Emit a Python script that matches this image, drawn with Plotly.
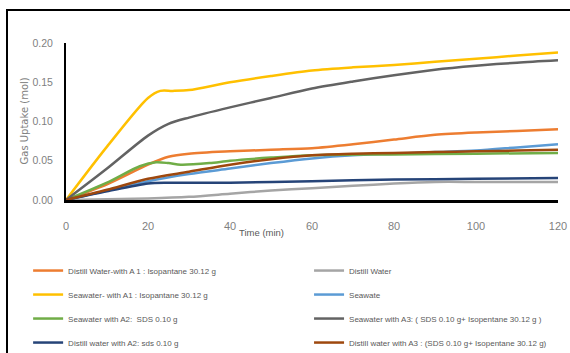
import plotly.graph_objects as go

# Gas uptake (mol) over time (min) for each water / additive system
t_dw_a1 = [0, 10, 20, 25, 30, 40, 50, 60, 70, 80, 90, 100, 110, 120]
y_dw_a1 = [0, 0.020, 0.045, 0.055, 0.059, 0.062, 0.064, 0.066, 0.071, 0.077, 0.083, 0.086, 0.088, 0.090]

t_dw = [0, 20, 30, 40, 50, 60, 70, 80, 90, 100, 110, 120]
y_dw = [0, 0.002, 0.004, 0.008, 0.012, 0.015, 0.018, 0.021, 0.023, 0.023, 0.023, 0.023]

t_sw_a1 = [0, 10, 20, 23, 26, 30, 40, 50, 60, 70, 80, 90, 100, 110, 120]
y_sw_a1 = [0, 0.068, 0.130, 0.139, 0.139, 0.140, 0.150, 0.158, 0.165, 0.169, 0.172, 0.176, 0.180, 0.184, 0.188]

t_sw = [0, 10, 20, 30, 40, 50, 60, 70, 80, 90, 100, 110, 120]
y_sw = [0, 0.012, 0.024, 0.033, 0.040, 0.047, 0.053, 0.057, 0.059, 0.061, 0.063, 0.067, 0.071]

t_sw_a2 = [0, 10, 18, 22, 25, 28, 35, 40, 50, 60, 80, 100, 120]
y_sw_a2 = [0, 0.022, 0.043, 0.048, 0.047, 0.045, 0.047, 0.050, 0.054, 0.057, 0.058, 0.059, 0.060]

t_sw_a3 = [0, 10, 20, 25, 30, 40, 50, 60, 70, 80, 90, 100, 110, 120]
y_sw_a3 = [0, 0.040, 0.082, 0.097, 0.105, 0.118, 0.130, 0.142, 0.151, 0.159, 0.166, 0.171, 0.175, 0.178]

t_dw_a2 = [0, 10, 20, 25, 40, 60, 80, 100, 120]
y_dw_a2 = [0, 0.011, 0.021, 0.022, 0.022, 0.024, 0.026, 0.027, 0.028]

t_dw_a3 = [0, 10, 20, 30, 40, 50, 60, 70, 80, 90, 100, 110, 120]
y_dw_a3 = [0, 0.013, 0.027, 0.036, 0.045, 0.052, 0.057, 0.059, 0.060, 0.061, 0.062, 0.063, 0.064]

x_ticks = [0, 20, 40, 60, 80, 100, 120]
y_ticks = [0.00, 0.05, 0.10, 0.15, 0.20]

FONT = "Liberation Sans, Arial, sans-serif"
NBSP = "\u00a0"

series = [
    ("Distill Water-with A 1 : Isopantane 30.12 g", t_dw_a1, y_dw_a1, "#ED7D31", "legend"),
    ("Distill Water", t_dw, y_dw, "#A5A5A5", "legend2"),
    ("Seawater- with A1 : Isopantane 30.12 g", t_sw_a1, y_sw_a1, "#FFC000", "legend"),
    ("Seawate", t_sw, y_sw, "#5B9BD5", "legend2"),
    ("Seawater with A2:" + NBSP + " SDS 0.10 g", t_sw_a2, y_sw_a2, "#70AD47", "legend"),
    ("Seawater with A3: ( SDS 0.10 g+ Isopentane 30.12 g )", t_sw_a3, y_sw_a3, "#636363", "legend2"),
    ("Distill water with A2: sds 0.10 g", t_dw_a2, y_dw_a2, "#264478", "legend"),
    ("Distill water with A3 : (SDS 0.10 g+ Isopentane 30.12 g)", t_dw_a3, y_dw_a3, "#9E480E", "legend2"),
]

fig = go.Figure()
for i, (name, xs, ys, color, leg) in enumerate(series):
    fig.add_trace(go.Scatter(
        x=xs, y=ys, mode="lines", name=name,
        line=dict(color=color, width=2.5, shape="spline", smoothing=0.8),
        legend=leg, legendgroup=f"g{i}",
    ))

legend_style = dict(
    orientation="v", xanchor="left", yanchor="top",
    font=dict(family=FONT, size=8, color="#595959"),
    bgcolor="rgba(0,0,0,0)", tracegroupgap=5, itemwidth=30,
)

fig.update_layout(
    width=570, height=353,
    margin=dict(l=66, r=12, t=43, b=153, autoexpand=False),
    paper_bgcolor="white", plot_bgcolor="white",
    xaxis=dict(
        range=[0, 120], tickvals=x_ticks, showgrid=False, zeroline=False,
        showline=True, linecolor="black", linewidth=3,
        ticks="", ticklabelstandoff=14,
        tickfont=dict(family=FONT, size=11, color="#7F7F7F"),
    ),
    yaxis=dict(
        range=[0, 0.2], tickvals=y_ticks, tickformat=".2f", showgrid=False, zeroline=False,
        showline=True, linecolor="black", linewidth=2,
        ticks="", ticklabelstandoff=9,
        tickfont=dict(family=FONT, size=10.5, color="#7F7F7F"),
    ),
    legend=dict(x=-0.077, y=-0.357, **legend_style),
    legend2=dict(x=0.494, y=-0.357, **legend_style),
    showlegend=True,
)

# Axis titles
fig.add_annotation(
    text="Gas Uptake (mol)", xref="paper", yref="paper", x=(24 - 66) / 492, y=0.5,
    textangle=-90, showarrow=False, xanchor="center", yanchor="middle",
    font=dict(family="DejaVu Sans", size=10, color="#808080"),
)
fig.add_annotation(
    text="Time (min)", xref="paper", yref="paper", x=(237 - 66) / 492, y=(200 - 232) / 157,
    showarrow=False, xanchor="left", yanchor="middle",
    font=dict(family=FONT, size=9.5, color="#595959"),
)

# Chart frame
fig.add_shape(
    type="rect", xref="paper", yref="paper",
    x0=(7 - 66) / 492, x1=(580 - 66) / 492, y0=(200 - 365) / 157, y1=(200 - 10) / 157,
    line=dict(color="black", width=2), fillcolor="rgba(0,0,0,0)", layer="below",
)

fig.write_html("out.html")
